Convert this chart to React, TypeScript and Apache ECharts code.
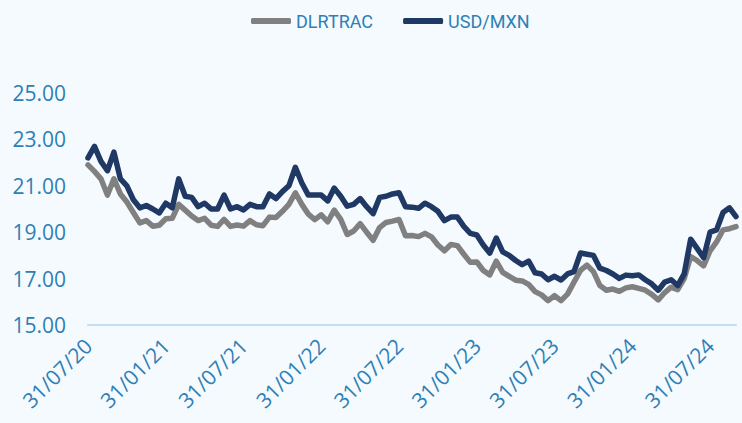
import React, { useEffect, useRef } from "react";
import * as echarts from "echarts";

const dates: string[] = [
  "31/07/20", "15/08/20", "31/08/20", "15/09/20", "30/09/20", "15/10/20", "31/10/20", "15/11/20", "30/11/20", "15/12/20", "31/12/20",
  "15/01/21", "31/01/21", "15/02/21", "28/02/21", "15/03/21", "31/03/21", "15/04/21", "30/04/21", "15/05/21", "31/05/21", "15/06/21", "30/06/21",
  "15/07/21", "31/07/21", "15/08/21", "31/08/21", "15/09/21", "30/09/21", "15/10/21", "31/10/21", "15/11/21", "30/11/21", "15/12/21", "31/12/21",
  "15/01/22", "31/01/22", "15/02/22", "28/02/22", "15/03/22", "31/03/22", "15/04/22", "30/04/22", "15/05/22", "31/05/22", "15/06/22", "30/06/22",
  "15/07/22", "31/07/22", "15/08/22", "31/08/22", "15/09/22", "30/09/22", "15/10/22", "31/10/22", "15/11/22", "30/11/22", "15/12/22", "31/12/22",
  "15/01/23", "31/01/23", "15/02/23", "28/02/23", "15/03/23", "31/03/23", "15/04/23", "30/04/23", "15/05/23", "31/05/23", "15/06/23", "30/06/23",
  "15/07/23", "31/07/23", "15/08/23", "31/08/23", "15/09/23", "30/09/23", "15/10/23", "31/10/23", "15/11/23", "30/11/23", "15/12/23", "31/12/23",
  "15/01/24", "31/01/24", "15/02/24", "29/02/24", "15/03/24", "31/03/24", "15/04/24", "30/04/24", "15/05/24", "31/05/24", "15/06/24", "30/06/24",
  "15/07/24", "31/07/24", "15/08/24", "31/08/24", "15/09/24", "30/09/24",
];

const usdMxn: number[] = [
  22.2, 22.7, 22.05, 21.65, 22.45, 21.3, 21.0, 20.4, 20.05, 20.15, 20.0,
  19.83, 20.25, 20.05, 21.3, 20.55, 20.5, 20.1, 20.25, 20.0, 20.0, 20.6, 20.0,
  20.1, 19.96, 20.2, 20.1, 20.1, 20.65, 20.45, 20.75, 21.0, 21.8, 21.12, 20.6,
  20.6, 20.6, 20.35, 20.9, 20.55, 20.12, 20.2, 20.45, 20.1, 19.8, 20.5, 20.55,
  20.65, 20.7, 20.1, 20.08, 20.03, 20.25, 20.1, 19.9, 19.5, 19.65, 19.65, 19.25,
  18.95, 18.88, 18.45, 18.1, 18.75, 18.15, 18.0, 17.78, 17.6, 17.75, 17.25, 17.2,
  16.95, 17.1, 16.94, 17.2, 17.3, 18.1, 18.05, 18.0, 17.45, 17.35, 17.2, 17.01,
  17.15, 17.12, 17.16, 16.95, 16.77, 16.5, 16.85, 16.95, 16.7, 17.2, 18.7, 18.3,
  17.9, 19.0, 19.1, 19.85, 20.05, 19.67,
];

const dlrtrac: number[] = [
  21.9, 21.62, 21.3, 20.6, 21.3, 20.65, 20.3, 19.85, 19.4, 19.5, 19.26,
  19.3, 19.58, 19.6, 20.2, 19.95, 19.7, 19.5, 19.6, 19.3, 19.25, 19.55, 19.25,
  19.31, 19.26, 19.5, 19.32, 19.28, 19.65, 19.63, 19.9, 20.2, 20.7, 20.2, 19.78,
  19.54, 19.75, 19.45, 19.95, 19.55, 18.9, 19.05, 19.37, 19.0, 18.65, 19.2, 19.42,
  19.48, 19.55, 18.85, 18.86, 18.81, 18.95, 18.8, 18.45, 18.2, 18.47, 18.42, 18.05,
  17.7, 17.72, 17.35, 17.16, 17.75, 17.27, 17.1, 16.93, 16.9, 16.75, 16.44, 16.3,
  16.05, 16.27, 16.05, 16.33, 16.85, 17.35, 17.58, 17.3, 16.7, 16.5, 16.55, 16.45,
  16.6, 16.65, 16.58, 16.5, 16.32, 16.08, 16.4, 16.63, 16.52, 17.0, 17.95, 17.78,
  17.55, 18.2, 18.58, 19.1, 19.15, 19.24,
];

const seriesNames: string[] = ["DLRTRAC", "USD/MXN"];
const yTicks: number[] = [15, 17, 19, 21, 23, 25];

const TEXT = "#2E80B4";
const BG = "#F5FAFE";

export default function App() {
  const ref = useRef<HTMLDivElement>(null);
  useEffect(() => {
    document.body.style.margin = "0";
    if (!ref.current) return;
    const chart = echarts.init(ref.current, null, { renderer: "svg" });
    chart.setOption({
      animation: false,
      backgroundColor: BG,
      textStyle: { fontFamily: "Open Sans" },
      legend: {
        data: seriesNames,
        left: 246,
        top: 7,
        itemWidth: 40,
        itemHeight: 6,
        itemGap: 30,
        icon: "roundRect",
        textStyle: { color: TEXT, fontSize: 18, fontFamily: "Roboto" },
      },
      grid: { left: 88, right: 6, top: 93, bottom: 98, containLabel: false },
      xAxis: {
        type: "category",
        data: dates,
        boundaryGap: false,
        axisLine: { show: true, lineStyle: { color: "#C3DDF0", width: 2 } },
        axisTick: { show: false },
        splitLine: { show: false },
        axisLabel: {
          rotate: 45,
          margin: 17,
          color: TEXT,
          fontSize: 21,
          interval: (_i: number, v: string) => v.startsWith("31/01") || v.startsWith("31/07"),
        },
      },
      yAxis: {
        type: "value",
        min: yTicks[0],
        max: yTicks[yTicks.length - 1],
        interval: 2,
        axisLine: { show: false },
        axisTick: { show: false },
        splitLine: { show: false },
        axisLabel: {
          color: TEXT,
          fontSize: 21,
          margin: 22,
          formatter: (v: number) => v.toFixed(2),
        },
      },
      series: [
        {
          name: seriesNames[0],
          type: "line",
          data: dlrtrac,
          showSymbol: false,
          color: "#808080",
          lineStyle: { width: 5.5, color: "#808080", cap: "round", join: "round" },
        },
        {
          name: seriesNames[1],
          type: "line",
          data: usdMxn,
          showSymbol: false,
          color: "#1F3864",
          lineStyle: { width: 5.5, color: "#1F3864", cap: "round", join: "round" },
        },
      ],
    });
    return () => chart.dispose();
  }, []);
  return <div ref={ref} style={{ width: 742, height: 423, background: BG }} />;
}
